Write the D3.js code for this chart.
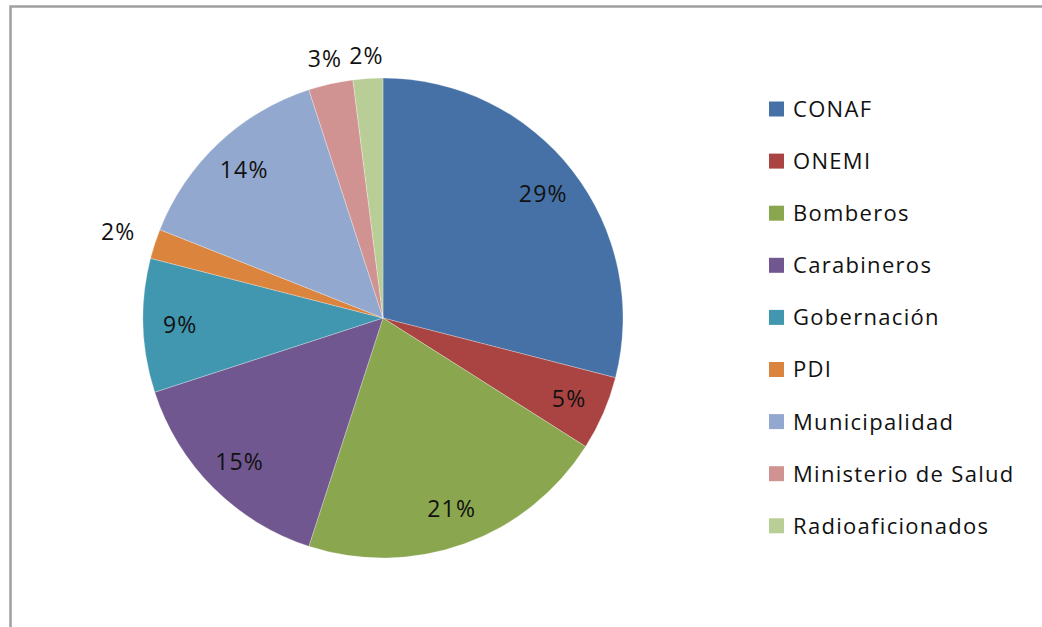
<!DOCTYPE html>
<html>
<head>
<meta charset="utf-8">
<script src="https://cdn.jsdelivr.net/npm/d3@7"></script>
<style>
  html, body { margin: 0; padding: 0; background: #fff; }
  svg { display: block; }
</style>
</head>
<body>
<svg id="chart" width="1042" height="627"></svg>
<script>
const categories = ["CONAF", "ONEMI", "Bomberos", "Carabineros", "Gobernación", "PDI", "Municipalidad", "Ministerio de Salud", "Radioaficionados"];
const values = [29, 5, 21, 15, 9, 2, 14, 3, 2];
const colors = ["#4571A6", "#A94442", "#8AA64E", "#71578F", "#4197AF", "#DB843D", "#93A8CF", "#D19391", "#B9CD97"];

const svg = d3.select("#chart");
const W = 1042, H = 627;

svg.append("rect")
  .attr("x", 10.5).attr("y", 6.5)
  .attr("width", W + 20).attr("height", H + 20)
  .attr("fill", "#fff")
  .attr("stroke", "#a0a0a0").attr("stroke-width", 2.5);

const cx = 383, cy = 318, r = 240;
const total = d3.sum(values);
const pie = d3.pie().sort(null).value(d => d.v);
const data = categories.map((c, i) => ({ c, v: values[i], col: colors[i] }));
const arcs = pie(data);
const arc = d3.arc().innerRadius(0).outerRadius(r);

const g = svg.append("g").attr("transform", `translate(${cx},${cy})`);
g.selectAll("path.slice").data(arcs).enter().append("path")
  .attr("class", "slice")
  .attr("d", arc)
  .attr("fill", d => d.data.col)
  .attr("stroke", "rgba(255,255,255,0.4)")
  .attr("stroke-width", 0.7);

const font = "'Open Sans', sans-serif";
const labelSize = 23;

g.selectAll("text.lbl").data(arcs).enter().append("text")
  .attr("class", "lbl")
  .attr("font-family", font)
  .attr("font-size", labelSize)
  .attr("letter-spacing", 1.2)
  .attr("fill", "#111")
  .attr("text-anchor", "middle")
  .text(d => Math.round(d.data.v / total * 100) + "%")
  .each(function(d) {
    const a = (d.startAngle + d.endAngle) / 2;
    const s = Math.sin(a), c = Math.cos(a);
    const w = this.getComputedTextLength();
    let R;
    if (d.data.v / total < 0.04) {
      R = 262 + (w / 2) * Math.abs(s);
    } else {
      R = r * 0.845;
    }
    const x = R * s, y = -R * c;
    d3.select(this).attr("x", x).attr("y", y + labelSize * 0.36);
  });

// Legend
const legX = 769, legY0 = 109, legStep = 52.1, sq = 15, legSize = 22;
const leg = svg.append("g");
const items = leg.selectAll("g").data(data).enter().append("g")
  .attr("transform", (d, i) => `translate(${legX},${legY0 + i * legStep})`);
items.append("rect")
  .attr("x", 0).attr("y", -sq / 2)
  .attr("width", sq).attr("height", sq)
  .attr("fill", d => d.col);
items.append("text")
  .attr("x", 24).attr("y", legSize * 0.36)
  .attr("font-family", font)
  .attr("font-size", legSize)
  .attr("letter-spacing", 1.3)
  .attr("fill", "#111")
  .text(d => d.c);
</script>
</body>
</html>
